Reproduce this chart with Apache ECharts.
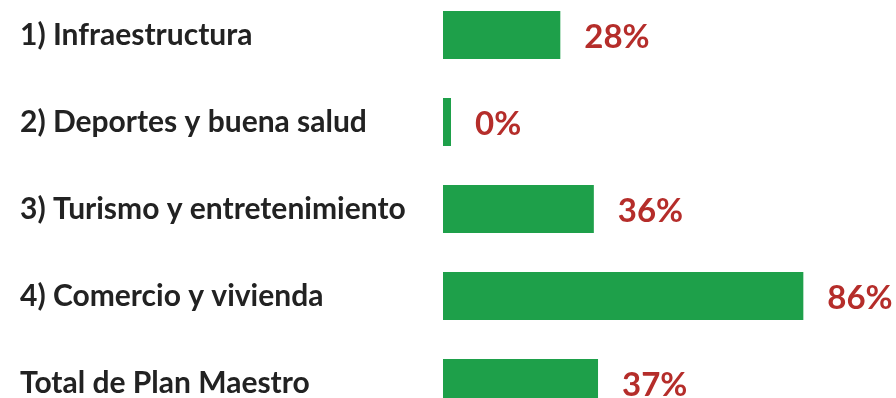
<!DOCTYPE html>
<html>
<head>
<meta charset="utf-8">
<script src="https://cdn.jsdelivr.net/npm/echarts@6/dist/echarts.min.js"></script>
<style>
  html, body { margin: 0; padding: 0; background: #ffffff; }
  #chart { width: 896px; height: 398px; }
</style>
</head>
<body>
<div id="chart"></div>
<script>
// Avance por componente del Plan Maestro (%)
const categories = [
  '1) Infraestructura',
  '2) Deportes y buena salud',
  '3) Turismo y entretenimiento',
  '4) Comercio y vivienda',
  'Total de Plan Maestro'
];
const values = [28, 0, 36, 86, 37];

const chart = echarts.init(document.getElementById('chart'), null, { renderer: 'canvas' });

chart.setOption({
  animation: false,
  backgroundColor: '#ffffff',
  grid: {
    left: 443, top: -8.5, width: 419, height: 435,
    containLabel: false, outerBoundsMode: 'none'
  },
  xAxis: {
    type: 'value', min: 0, max: 100,
    show: false
  },
  yAxis: {
    type: 'category', data: categories, inverse: true,
    axisLine: { show: false }, axisTick: { show: false },
    axisLabel: {
      align: 'left', margin: 423,
      fontFamily: 'Lato', fontWeight: 'bold', fontSize: 30, color: '#222222'
    }
  },
  series: [{
    type: 'bar',
    data: values,
    barWidth: 48,
    barMinHeight: 8,
    itemStyle: { color: '#1EA04A' },
    label: {
      show: true, position: 'right', distance: 24, offset: [0, 2],
      formatter: p => p.value + '%',
      fontFamily: 'Lato', fontWeight: 'bold', fontSize: 33, color: '#B52D2A'
    }
  }]
});
</script>
</body>
</html>
